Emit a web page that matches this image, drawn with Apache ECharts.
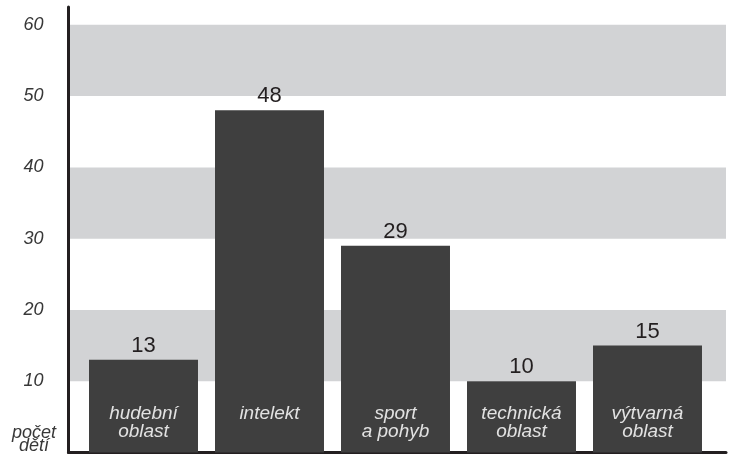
<!DOCTYPE html>
<html>
<head>
<meta charset="utf-8">
<script src="https://cdn.jsdelivr.net/npm/echarts@6/dist/echarts.min.js"></script>
<style>
  html, body { margin: 0; padding: 0; background: #fff; }
  #chart { width: 733px; height: 459px; }
</style>
</head>
<body>
<div id="chart"></div>
<script>
// Zájmové oblasti dětí – počet dětí v každé oblasti
const categories = ['hudební\noblast', 'intelekt', 'sport\na pohyb', 'technická\noblast', 'výtvarná\noblast'];
const counts = [13, 48, 29, 10, 15];
const axisTitle = 'počet\ndětí';
const yMin = 0;
const yTop = 60;
const yStep = 10;

const FONT = '"Liberation Sans", Arial, sans-serif';
const yMax = 62.5; // a bit of headroom so the axis line runs above the top band

const chart = echarts.init(document.getElementById('chart'), null, { renderer: 'canvas' });

chart.setOption({
  animation: false,
  backgroundColor: '#ffffff',
  // axis title, sitting where the zero label would be
  title: {
    text: axisTitle, left: 34, top: 426, textAlign: 'center', padding: 0,
    textStyle: { fontFamily: FONT, fontStyle: 'italic', fontWeight: 'normal', fontSize: 18, lineHeight: 13, color: '#383838' }
  },
  grid: [
    // frame grid: axis lines, grey bands, y labels
    { left: 68.5, right: 7, top: 7, bottom: 6.5, outerBoundsMode: 'none', containLabel: false },
    // bar grid
    { left: 80.5, right: 22.5, top: 7, bottom: 6.5, outerBoundsMode: 'none', containLabel: false }
  ],
  xAxis: [
    {
      gridIndex: 0, type: 'value', min: 0, max: 1,
      axisLine: { show: true, onZero: false, lineStyle: { color: '#231f20', width: 3 } },
      axisTick: { show: false }, axisLabel: { show: false }, splitLine: { show: false }
    },
    {
      gridIndex: 1, type: 'category', data: categories, z: 10,
      axisLine: { show: false }, axisTick: { show: false }, splitLine: { show: false },
      axisLabel: {
        inside: true, margin: 48, verticalAlign: 'top',
        color: '#e2e2e2', fontFamily: FONT, fontStyle: 'italic', fontSize: 19, lineHeight: 18,
        interval: 0
      }
    }
  ],
  yAxis: [
    {
      gridIndex: 0, type: 'value', min: yMin, max: yMax, interval: yStep,
      axisLine: { show: true, lineStyle: { color: '#231f20', width: 3 } },
      axisTick: { show: false },
      splitLine: { show: false },
      splitArea: { show: true, areaStyle: { color: ['rgba(255,255,255,0)', '#d2d3d5'] } },
      axisLabel: {
        margin: 35, align: 'center', color: '#383838',
        fontFamily: FONT, fontStyle: 'italic', fontSize: 18,
        formatter: function (v) {
          if (v > yTop || v === yMin) return '';
          return String(v);
        }
      }
    },
    {
      gridIndex: 1, type: 'value', min: yMin, max: yMax, show: false
    }
  ],
  series: [
    {
      type: 'bar', xAxisIndex: 1, yAxisIndex: 1,
      data: counts,
      barCategoryGap: '13.5%',
      itemStyle: { color: '#3f3f3f' },
      label: {
        show: true, position: 'top', distance: 3,
        color: '#231f20', fontFamily: FONT, fontSize: 22
      }
    }
  ]
});
</script>
</body>
</html>
